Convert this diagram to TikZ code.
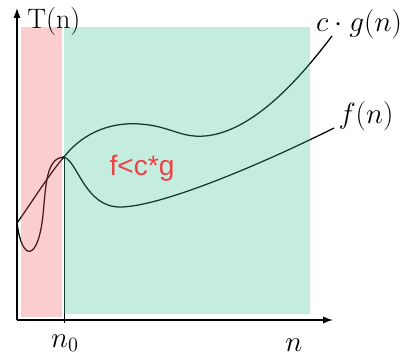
\documentclass[tikz,border=0pt]{standalone}
\usepackage{fontspec}
\usepackage{xcolor}
\usetikzlibrary{arrows.meta,positioning,calc}
\newfontfamily\regionfont{Liberation Sans}
\definecolor{bigOgreen}{RGB}{58,195,152}
\definecolor{bigOpink}{RGB}{237,93,95}
\definecolor{bigOred}{RGB}{236,68,68}

\begin{document}
\begin{tikzpicture}[
  x=0.025cm, y=-0.025cm,
  axis/.style={-{Latex[length=7pt,width=5pt]}, line width=0.9pt},
  curve/.style={line width=0.9pt, black},
  region/.style={fill opacity=0.3, draw=none},
  mathlabel/.style={font=\fontsize{22}{26}\selectfont, inner sep=0pt},
  note/.style={font=\regionfont\fontsize{20}{24}\selectfont, text=bigOred}
]
\useasboundingbox (0,0) rectangle (410,358);

% Curves
\coordinate (start) at (17,223);
\coordinate (cross) at (64,157);
\draw[curve] (start) .. controls (30,205) and (52,170) .. (cross)
  .. controls (85,130) and (115,122) .. (140,124)
  .. controls (170,126) and (180,138) .. (205,136)
  .. controls (250,132) and (295,85) .. (332,36);
\draw[curve] (start) .. controls (22,262) and (38,262) .. (43,215)
  .. controls (46,185) and (46,158) .. (cross)
  .. controls (78,162) and (85,207) .. (120,207)
  .. controls (160,207) and (260,165) .. (334,128);

% Threshold n0
\coordinate (tick) at (64,323);
\draw[line width=0.7pt] (cross) -- (tick);

% Regions
\fill[region, bigOpink] (21,27) rectangle (62,317);
\fill[region, bigOgreen] (64,27) rectangle (310,314);

% Axes
\coordinate (O) at (17,320);
\coordinate (ytop) at (17,8);
\coordinate (xend) at (333,320);
\draw[axis] (O) -- (ytop);
\draw[axis] (O) -- (xend);

% Labels
\node[font=\fontsize{20}{24}\selectfont, inner sep=0pt, anchor=west] (Tn) at (27,21) {T(n)};
\node[mathlabel] (n0) at (65,343) {$n_0$};
\node[mathlabel] (n) at (294,345) {$n$};
\node[mathlabel] (cg) at (359,24) {$c\cdot g(n)$};
\node[mathlabel] (fn) at (366,116) {$f(n)$};
\node[note] (rel) at (142,168) {f<c*g};
\end{tikzpicture}
\end{document}
